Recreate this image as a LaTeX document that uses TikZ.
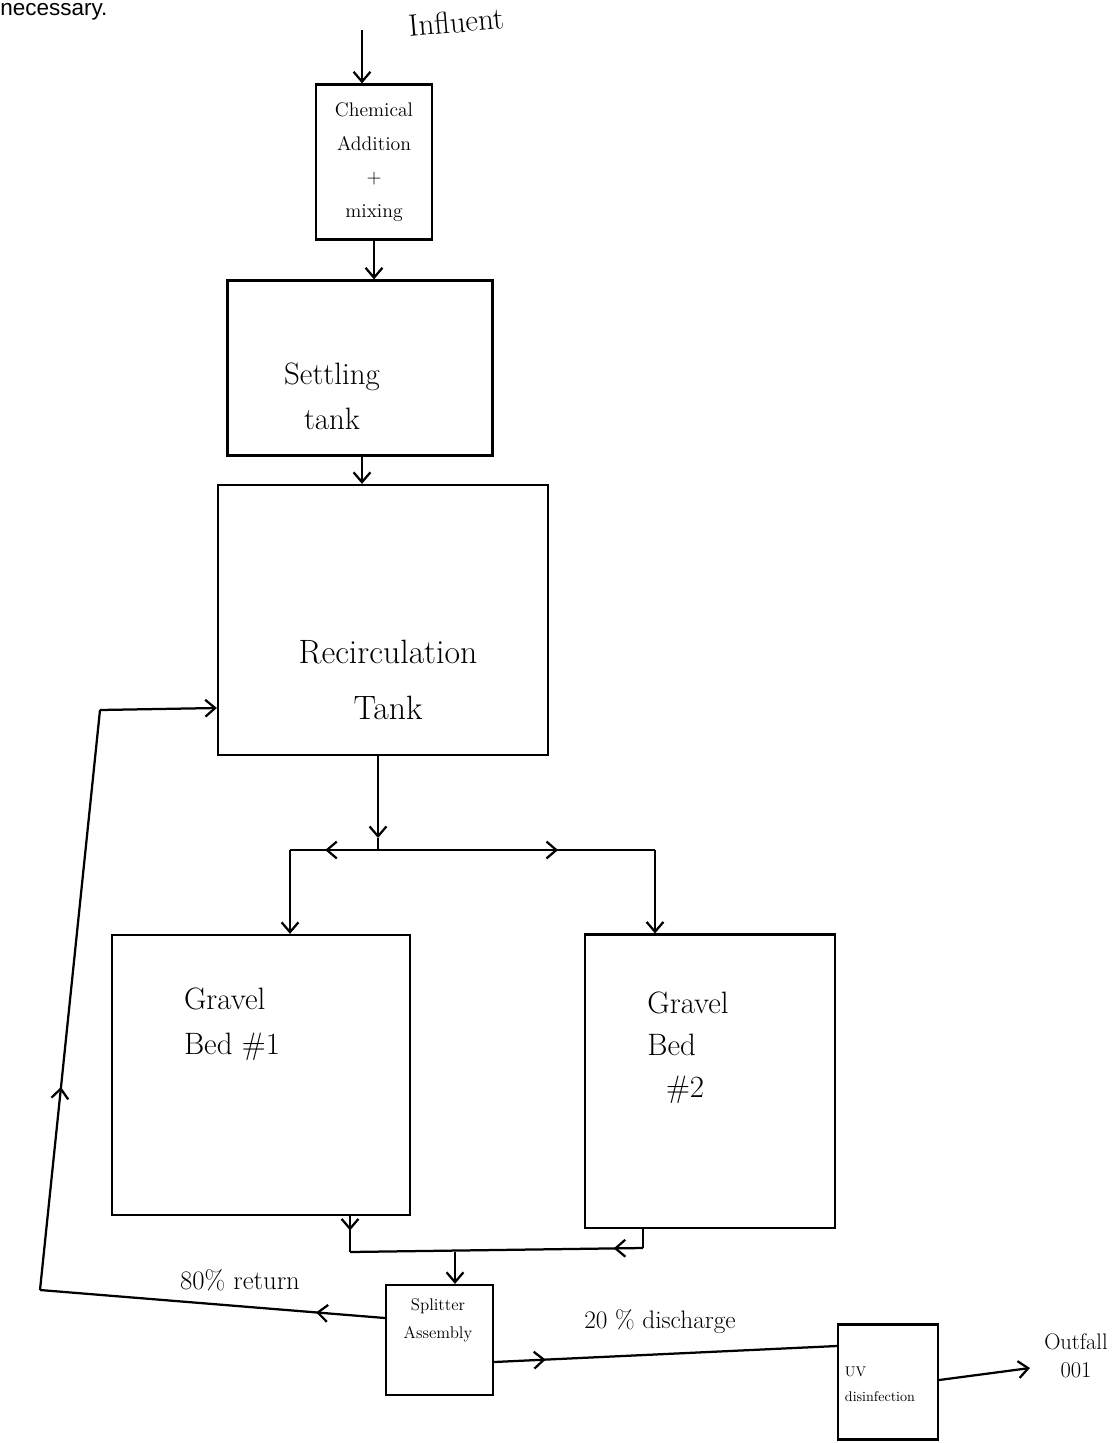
\documentclass[tikz,border=0pt]{standalone}
\usepackage{fontspec}
\newfontfamily\notefont{Liberation Sans}
\usetikzlibrary{arrows.meta,positioning,calc,decorations.markings}

\tikzset{
  unit/.style={draw, line width=1.6pt, align=center, inner sep=2pt},
  flow/.style={line width=1.6pt, -{Straight Barb[length=7pt,width=12pt]}},
  pipe/.style={line width=1.6pt},
  midarrow/.style={pipe, decoration={markings,
      mark=at position #1 with {\arrow{Straight Barb[length=7pt,width=12pt]}}},
      postaction={decorate}},
}

\begin{document}
\begin{tikzpicture}
  \useasboundingbox (0,0) rectangle (28,-36.075);

  % stray text from the page
  \node[anchor=base west, inner sep=0pt, font=\notefont\fontsize{16}{18}\selectfont] (note) at (0,-0.38) {necessary.};

  % process units
  \node[unit, minimum width=2.9cm, minimum height=3.875cm, font=\fontsize{14}{24}\selectfont] (chem) at (9.35,-4.05) {Chemical\\Addition\\+\\mixing};
  \node[unit, minimum width=6.625cm, minimum height=4.375cm] (settle) at (9.0,-9.2) {};
  \node[font=\fontsize{22}{32}\selectfont, align=center] (settletxt) at (8.3,-9.9) {Settling\\tank};
  \node[unit, minimum width=8.25cm, minimum height=6.75cm] (recirc) at (9.575,-15.5) {};
  \node[font=\fontsize{24}{40}\selectfont, align=center] (recirctxt) at (9.7,-17.0) {Recirculation\\Tank};
  \node[unit, minimum width=7.45cm, minimum height=7.0cm] (bed1) at (6.525,-26.875) {};
  \node[font=\fontsize{22}{32}\selectfont, align=left] (bed1txt) at (5.8,-25.6) {Gravel\\Bed \#1};
  \node[unit, minimum width=6.25cm, minimum height=7.33cm] (bed2) at (17.75,-27.03) {};
  \node[font=\fontsize{22}{30}\selectfont, align=left] (bed2txt) at (17.2,-26.2) {Gravel\\Bed\\\ \ \#2};
  \node[unit, minimum width=2.675cm, minimum height=2.75cm] (split) at (10.99,-33.5) {};
  \node[font=\fontsize{12}{20}\selectfont, align=center] (splittxt) at (10.95,-33.0) {Splitter\\Assembly};
  \node[unit, minimum width=2.5cm, minimum height=2.875cm] (uv) at (22.2,-34.55) {};
  \node[font=\fontsize{10}{18}\selectfont, align=left, anchor=west] (uvtxt) at (21.0,-34.6) {UV\\disinfection};

  % junction points
  \coordinate (feed) at (9.05,-0.75);
  \coordinate (fork) at (9.45,-21.25);
  \coordinate (forkL) at (7.25,-21.25);
  \coordinate (forkR) at (16.375,-21.25);
  \coordinate (joinL) at (8.75,-31.3);
  \coordinate (joinR) at (16.075,-31.2);
  \coordinate (join) at (11.375,-31.3);
  \coordinate (retA) at (1.0,-32.25);
  \coordinate (retB) at (2.5,-17.75);
  \coordinate (out) at (25.75,-34.2);

  % main line
  \draw[flow] (feed) -- (feed |- chem.north);
  \node[font=\fontsize{22}{24}\selectfont, rotate=5] (infl) at (11.4,-0.55) {Influent};
  \draw[flow] (chem.south -| 9.35,0) -- (9.35,0 |- settle.north);
  \draw[flow] (settle.south -| 9.05,0) -- (9.05,0 |- recirc.north);
  \draw[flow] (recirc.south -| fork) -- ($(fork)+(0,0.3)$);
  \draw[pipe] ($(fork)+(0,0.3)$) -- (fork);

  % split to the gravel beds
  \draw[midarrow=0.6] (fork) -- (forkL);
  \draw[midarrow=0.65] (fork) -- (forkR);
  \draw[flow] (forkL) -- (forkL |- bed1.north);
  \draw[flow] (forkR) -- (forkR |- bed2.north);

  % gravel beds to splitter
  \draw[midarrow=0.4] (bed1.south -| joinL) -- (joinL);
  \draw[pipe] (bed2.south -| joinR) -- (joinR);
  \draw[midarrow=0.1] (joinR) -- (joinL);
  \draw[flow] (join) -- (join |- split.north);

  % return and discharge
  \draw[midarrow=0.2] ($(split.west)+(0,0.55)$) -- (retA);
  \draw[midarrow=0.35] (retA) -- (retB);
  \draw[flow] (retB) -- ($(recirc.west)+(0,-2.2)$);
  \node[font=\fontsize{19}{20}\selectfont] (ret) at (6.0,-32.0) {80\% return};
  \draw[midarrow=0.15] ($(split.east)+(0,-0.55)$) -- ($(uv.west)+(0,0.9)$);
  \node[font=\fontsize{18}{20}\selectfont] (dis) at (16.5,-33.05) {20 \% discharge};
  \draw[flow] ($(uv.east)+(0,0.05)$) -- (out);
  \node[font=\fontsize{16}{20}\selectfont, align=center] (outfall) at (26.9,-33.9) {Outfall\\001};
\end{tikzpicture}
\end{document}
